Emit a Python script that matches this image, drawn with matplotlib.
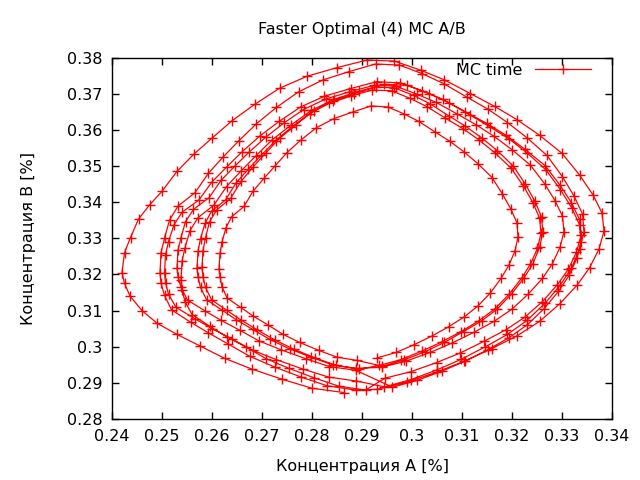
import matplotlib
matplotlib.use("Agg")
import matplotlib.pyplot as plt
from matplotlib.ticker import FuncFormatter

title = "Faster Optimal (4) MC A/B"
xlabel = "Концентрация A [%]"
ylabel = "Концентрация B [%]"
series_label = "MC time"

loop1_A = [0.2420, 0.2425, 0.2437, 0.2453, 0.2475, 0.2500, 0.2530, 0.2564, 0.2600, 0.2640,
           0.2685, 0.2735, 0.2790, 0.2850, 0.2910, 0.2965, 0.3017, 0.3065, 0.3117, 0.3165,
           0.3210, 0.3255, 0.3300, 0.3335, 0.3362, 0.3380, 0.3384, 0.3374, 0.3355, 0.3330,
           0.3295, 0.3255, 0.3210, 0.3160, 0.3105, 0.3050, 0.2990, 0.2930, 0.2865, 0.2800,
           0.2740, 0.2680, 0.2625, 0.2576, 0.2530, 0.2490, 0.2460, 0.2436, 0.2425]
loop1_B = [0.3205, 0.3260, 0.3302, 0.3353, 0.3392, 0.3430, 0.3485, 0.3533, 0.3577, 0.3625,
           0.3670, 0.3715, 0.3748, 0.3772, 0.3793, 0.3790, 0.3765, 0.3738, 0.3700, 0.3665,
           0.3628, 0.3585, 0.3535, 0.3475, 0.3420, 0.3370, 0.3320, 0.3270, 0.3218, 0.3170,
           0.3118, 0.3070, 0.3030, 0.2995, 0.2960, 0.2930, 0.2902, 0.2882, 0.2873, 0.2885,
           0.2910, 0.2938, 0.2968, 0.3002, 0.3034, 0.3065, 0.3100, 0.3140, 0.3175]

loop2_A = [0.2496, 0.2498, 0.2505, 0.2515, 0.2532, 0.2566, 0.2593, 0.2623, 0.2654, 0.2689,
           0.2729, 0.2773, 0.2822, 0.2874, 0.2927, 0.2975, 0.3021, 0.3063, 0.3109, 0.3152,
           0.3191, 0.3230, 0.3270, 0.3301, 0.3324, 0.3341, 0.3344, 0.3335, 0.3319, 0.3297,
           0.3266, 0.3230, 0.3191, 0.3147, 0.3098, 0.3050, 0.2998, 0.2945, 0.2887, 0.2830,
           0.2778, 0.2725, 0.2676, 0.2633, 0.2593, 0.2557, 0.2519, 0.2505, 0.2498]
loop2_B = [0.3205, 0.3260, 0.3300, 0.3350, 0.3389, 0.3426, 0.3480, 0.3526, 0.3570, 0.3617,
           0.3662, 0.3705, 0.3738, 0.3761, 0.3782, 0.3779, 0.3755, 0.3728, 0.3691, 0.3657,
           0.3620, 0.3578, 0.3529, 0.3470, 0.3417, 0.3367, 0.3318, 0.3269, 0.3218, 0.3171,
           0.3120, 0.3073, 0.3034, 0.3000, 0.2965, 0.2936, 0.2909, 0.2889, 0.2880, 0.2892,
           0.2916, 0.2944, 0.2973, 0.3007, 0.3038, 0.3068, 0.3102, 0.3142, 0.3176]

loop3_A = [0.2505, 0.2507, 0.2513, 0.2524, 0.2540, 0.2574, 0.2600, 0.2630, 0.2660, 0.2695,
           0.2734, 0.2777, 0.2825, 0.2877, 0.2929, 0.2976, 0.3021, 0.3062, 0.3107, 0.3149,
           0.3188, 0.3226, 0.3266, 0.3296, 0.3319, 0.3335, 0.3338, 0.3329, 0.3313, 0.3291,
           0.3261, 0.3226, 0.3188, 0.3144, 0.3097, 0.3049, 0.2998, 0.2946, 0.2889, 0.2833,
           0.2782, 0.2729, 0.2682, 0.2640, 0.2600, 0.2565, 0.2528, 0.2513, 0.2507]
loop3_B = [0.3204, 0.3254, 0.3291, 0.3337, 0.3372, 0.3406, 0.3456, 0.3498, 0.3539, 0.3582,
           0.3623, 0.3663, 0.3693, 0.3714, 0.3733, 0.3730, 0.3708, 0.3684, 0.3650, 0.3618,
           0.3585, 0.3546, 0.3501, 0.3447, 0.3398, 0.3352, 0.3308, 0.3262, 0.3215, 0.3172,
           0.3125, 0.3082, 0.3047, 0.3015, 0.2983, 0.2956, 0.2931, 0.2913, 0.2905, 0.2916,
           0.2938, 0.2964, 0.2990, 0.3021, 0.3050, 0.3078, 0.3109, 0.3145, 0.3177]

loop4_A = [0.2538, 0.2540, 0.2546, 0.2556, 0.2572, 0.2604, 0.2629, 0.2658, 0.2687, 0.2720,
           0.2758, 0.2799, 0.2845, 0.2895, 0.2945, 0.2990, 0.3034, 0.3073, 0.3116, 0.3156,
           0.3194, 0.3231, 0.3268, 0.3297, 0.3320, 0.3335, 0.3338, 0.3330, 0.3314, 0.3293,
           0.3264, 0.3231, 0.3194, 0.3152, 0.3106, 0.3061, 0.3011, 0.2961, 0.2907, 0.2853,
           0.2804, 0.2754, 0.2708, 0.2668, 0.2629, 0.2596, 0.2560, 0.2546, 0.2540]
loop4_B = [0.3185, 0.3236, 0.3274, 0.3321, 0.3357, 0.3392, 0.3443, 0.3486, 0.3527, 0.3572,
           0.3613, 0.3654, 0.3685, 0.3707, 0.3726, 0.3723, 0.3700, 0.3675, 0.3641, 0.3608,
           0.3575, 0.3535, 0.3489, 0.3434, 0.3383, 0.3337, 0.3291, 0.3245, 0.3197, 0.3153,
           0.3105, 0.3061, 0.3025, 0.2992, 0.2960, 0.2933, 0.2907, 0.2888, 0.2880, 0.2891,
           0.2914, 0.2940, 0.2967, 0.2999, 0.3028, 0.3056, 0.3089, 0.3125, 0.3158]

loop5_A = [0.2530, 0.2532, 0.2538, 0.2547, 0.2563, 0.2594, 0.2618, 0.2646, 0.2674, 0.2707,
           0.2743, 0.2783, 0.2827, 0.2875, 0.2924, 0.2967, 0.3009, 0.3048, 0.3090, 0.3128,
           0.3164, 0.3200, 0.3237, 0.3265, 0.3286, 0.3301, 0.3304, 0.3296, 0.3281, 0.3261,
           0.3232, 0.3200, 0.3164, 0.3124, 0.3080, 0.3036, 0.2988, 0.2939, 0.2887, 0.2835,
           0.2787, 0.2739, 0.2694, 0.2655, 0.2618, 0.2586, 0.2551, 0.2538, 0.2532]
loop5_B = [0.3219, 0.3267, 0.3302, 0.3346, 0.3380, 0.3412, 0.3460, 0.3500, 0.3538, 0.3579,
           0.3618, 0.3656, 0.3685, 0.3705, 0.3723, 0.3721, 0.3699, 0.3676, 0.3644, 0.3614,
           0.3582, 0.3545, 0.3502, 0.3451, 0.3404, 0.3361, 0.3318, 0.3275, 0.3230, 0.3189,
           0.3145, 0.3104, 0.3070, 0.3040, 0.3010, 0.2984, 0.2960, 0.2943, 0.2935, 0.2945,
           0.2967, 0.2991, 0.3016, 0.3046, 0.3073, 0.3099, 0.3129, 0.3164, 0.3194]

loop6_A = [0.2570, 0.2572, 0.2577, 0.2586, 0.2599, 0.2627, 0.2648, 0.2673, 0.2698, 0.2727,
           0.2759, 0.2795, 0.2834, 0.2877, 0.2920, 0.2959, 0.2996, 0.3030, 0.3067, 0.3102,
           0.3134, 0.3166, 0.3198, 0.3223, 0.3242, 0.3255, 0.3258, 0.3251, 0.3237, 0.3219,
           0.3194, 0.3166, 0.3134, 0.3098, 0.3059, 0.3020, 0.2977, 0.2934, 0.2888, 0.2841,
           0.2798, 0.2755, 0.2716, 0.2681, 0.2648, 0.2620, 0.2589, 0.2577, 0.2572]
loop6_B = [0.3218, 0.3264, 0.3299, 0.3341, 0.3375, 0.3406, 0.3453, 0.3492, 0.3529, 0.3570,
           0.3607, 0.3645, 0.3673, 0.3693, 0.3710, 0.3708, 0.3687, 0.3664, 0.3632, 0.3603,
           0.3572, 0.3536, 0.3494, 0.3444, 0.3398, 0.3356, 0.3314, 0.3272, 0.3229, 0.3189,
           0.3145, 0.3105, 0.3072, 0.3042, 0.3013, 0.2988, 0.2964, 0.2948, 0.2940, 0.2950,
           0.2971, 0.2994, 0.3020, 0.3048, 0.3075, 0.3101, 0.3130, 0.3164, 0.3193]

loop7_A = [0.2580, 0.2582, 0.2587, 0.2595, 0.2609, 0.2637, 0.2658, 0.2682, 0.2707, 0.2735,
           0.2768, 0.2803, 0.2842, 0.2884, 0.2927, 0.2965, 0.3003, 0.3036, 0.3073, 0.3107,
           0.3139, 0.3171, 0.3203, 0.3227, 0.3246, 0.3259, 0.3262, 0.3255, 0.3242, 0.3224,
           0.3199, 0.3171, 0.3139, 0.3103, 0.3065, 0.3026, 0.2983, 0.2941, 0.2895, 0.2849,
           0.2806, 0.2764, 0.2725, 0.2690, 0.2658, 0.2629, 0.2599, 0.2587, 0.2582]
loop7_B = [0.3220, 0.3266, 0.3302, 0.3345, 0.3378, 0.3410, 0.3457, 0.3497, 0.3535, 0.3576,
           0.3614, 0.3652, 0.3680, 0.3700, 0.3718, 0.3716, 0.3695, 0.3672, 0.3639, 0.3610,
           0.3578, 0.3542, 0.3499, 0.3449, 0.3402, 0.3359, 0.3317, 0.3275, 0.3230, 0.3190,
           0.3146, 0.3105, 0.3071, 0.3042, 0.3012, 0.2986, 0.2963, 0.2946, 0.2938, 0.2948,
           0.2969, 0.2993, 0.3019, 0.3047, 0.3074, 0.3101, 0.3130, 0.3164, 0.3194]

loop8_A = [0.2614, 0.2616, 0.2620, 0.2628, 0.2639, 0.2664, 0.2682, 0.2704, 0.2726, 0.2750,
           0.2778, 0.2809, 0.2844, 0.2881, 0.2918, 0.2952, 0.2984, 0.3014, 0.3046, 0.3076,
           0.3104, 0.3132, 0.3160, 0.3181, 0.3198, 0.3210, 0.3212, 0.3206, 0.3194, 0.3178,
           0.3157, 0.3132, 0.3104, 0.3073, 0.3039, 0.3005, 0.2968, 0.2930, 0.2890, 0.2850,
           0.2813, 0.2775, 0.2741, 0.2711, 0.2682, 0.2657, 0.2630, 0.2620, 0.2616]
loop8_B = [0.3216, 0.3258, 0.3290, 0.3329, 0.3359, 0.3388, 0.3430, 0.3466, 0.3500, 0.3537,
           0.3572, 0.3606, 0.3631, 0.3649, 0.3666, 0.3663, 0.3644, 0.3623, 0.3594, 0.3568,
           0.3539, 0.3506, 0.3468, 0.3422, 0.3380, 0.3342, 0.3304, 0.3265, 0.3226, 0.3189,
           0.3149, 0.3113, 0.3082, 0.3055, 0.3029, 0.3006, 0.2984, 0.2969, 0.2962, 0.2971,
           0.2990, 0.3012, 0.3035, 0.3061, 0.3085, 0.3109, 0.3135, 0.3166, 0.3193]

x_ticks = [0.24, 0.25, 0.26, 0.27, 0.28, 0.29, 0.30, 0.31, 0.32, 0.33, 0.34]
y_ticks = [0.28, 0.29, 0.30, 0.31, 0.32, 0.33, 0.34, 0.35, 0.36, 0.37, 0.38]

loops_A = [loop1_A, loop2_A, loop3_A, loop4_A, loop5_A, loop6_A, loop7_A, loop8_A]
loops_B = [loop1_B, loop2_B, loop3_B, loop4_B, loop5_B, loop6_B, loop7_B, loop8_B]

# join the passes into one trajectory, each pass starting at its lowest point
start = 38
A_all, B_all = [], []
for la, lb in zip(loops_A, loops_B):
    A_all += la[start:] + la[:start]
    B_all += lb[start:] + lb[:start]

plt.rcParams['font.family'] = ['DejaVu Sans']
fs = 11.5
fig = plt.figure(figsize=(6.4, 4.8), dpi=100)
ax = fig.add_axes([112/640, 1 - 419/480, 500/640, (419 - 57.5)/480])

ax.plot(A_all, B_all, color='#ff0000', linewidth=0.9, marker='+',
        markersize=7, markeredgewidth=1.0, label=series_label)

ax.set_xlim(x_ticks[0], x_ticks[-1])
ax.set_ylim(y_ticks[0], y_ticks[-1])
ax.set_xticks(x_ticks)
ax.set_yticks(y_ticks)
fmt = FuncFormatter(lambda v, p: '%g' % round(v, 4))
ax.xaxis.set_major_formatter(fmt)
ax.yaxis.set_major_formatter(fmt)
ax.tick_params(direction='in', length=5, width=1, top=True, right=True,
               labelsize=fs, pad=7, colors='black')
for s in ax.spines.values():
    s.set_linewidth(1.0)

ax.set_title(title, fontsize=fs, pad=17)
ax.set_xlabel(xlabel, fontsize=fs, labelpad=11)
ax.set_ylabel(ylabel, fontsize=fs, labelpad=22)

ax.legend(loc='upper right', bbox_to_anchor=(0.958, 0.985), frameon=False,
          markerfirst=False, handlelength=3.5, handletextpad=0.8,
          fontsize=fs, borderpad=0, borderaxespad=0)

fig.savefig('out.png', dpi=100)
